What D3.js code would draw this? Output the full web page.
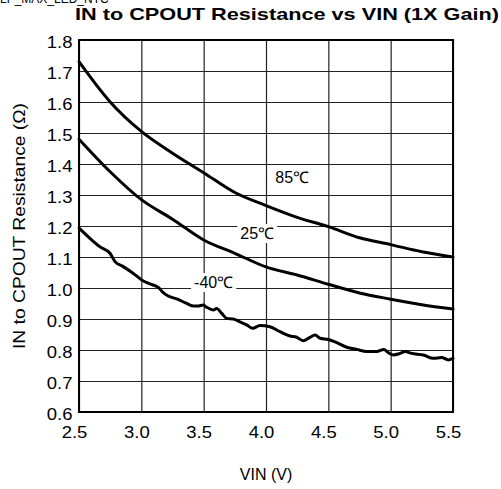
<!DOCTYPE html>
<html>
<head>
<meta charset="utf-8">
<script src="https://cdn.jsdelivr.net/npm/d3@7"></script>
<style>
  body { margin: 0; background: #fff; }
  text { font-family: "Liberation Sans", Arial, Helvetica, sans-serif; fill: #000; }
</style>
</head>
<body>
<svg id="chart" width="501" height="489"></svg>
<script>
// VIN sweep points and measured IN-to-CPOUT resistance per temperature
const vin85 = [2.5, 2.75, 3.0, 3.25, 3.5, 3.75, 4.0, 4.25, 4.5, 4.75, 5.0, 5.25, 5.5];
const res85 = [1.73, 1.60, 1.505, 1.435, 1.372, 1.308, 1.266, 1.228, 1.198, 1.162, 1.140, 1.117, 1.100];

const vin25 = [2.5, 2.75, 3.0, 3.25, 3.5, 3.75, 4.0, 4.25, 4.5, 4.75, 5.0, 5.25, 5.5];
const res25 = [1.48, 1.375, 1.285, 1.222, 1.155, 1.112, 1.068, 1.042, 1.012, 0.984, 0.964, 0.946, 0.932];

const vinM40 = [2.5, 2.588, 2.668, 2.749, 2.789, 2.855, 2.936, 3.003, 3.07, 3.136, 3.176, 3.216,
  3.283, 3.35, 3.417, 3.457, 3.497, 3.524, 3.577, 3.604, 3.645, 3.685, 3.738, 3.791, 3.845,
  3.893, 3.952, 4.032, 4.112, 4.192, 4.246, 4.299, 4.353, 4.393, 4.433, 4.5, 4.567, 4.647,
  4.727, 4.808, 4.888, 4.946, 4.981, 5.021, 5.075, 5.115, 5.169, 5.262, 5.342, 5.409, 5.462, 5.5];
const resM40 = [1.193, 1.160, 1.133, 1.112, 1.085, 1.069, 1.047, 1.026, 1.013, 1.002, 0.985, 0.974,
  0.965, 0.953, 0.942, 0.942, 0.945, 0.938, 0.929, 0.934, 0.918, 0.902, 0.900, 0.891, 0.881,
  0.870, 0.879, 0.875, 0.859, 0.845, 0.841, 0.830, 0.841, 0.848, 0.838, 0.834, 0.824, 0.809,
  0.802, 0.795, 0.795, 0.802, 0.791, 0.784, 0.789, 0.795, 0.789, 0.784, 0.773, 0.776, 0.768, 0.773];

const xTicks = [2.5, 3.0, 3.5, 4.0, 4.5, 5.0, 5.5];
const yTicks = [0.6, 0.7, 0.8, 0.9, 1.0, 1.1, 1.2, 1.3, 1.4, 1.5, 1.6, 1.7, 1.8];

const seriesNames = ["85℃", "25℃", "-40℃"];
const labelAt = [[4.21, 1.338], [3.93, 1.158], [3.58, 1.0]];

const svg = d3.select("#chart");
const plotL = 79, plotR = 453, plotT = 40, plotB = 412;

const x = d3.scaleLinear().domain([2.5, 5.5]).range([plotL, plotR]);
const y = d3.scaleLinear().domain([0.6, 1.8]).range([plotB, plotT]);

// clipped header text at the very top edge
svg.append("text").attr("x", 0).attr("y", 3).style("font-size", "12px").text("LP_MAX_LED_NTC");

// title
svg.append("text")
  .attr("x", 75).attr("y", 20)
  .attr("textLength", 424).attr("lengthAdjust", "spacingAndGlyphs")
  .style("font-size", "17px").style("font-weight", "bold")
  .text("IN to CPOUT Resistance vs VIN (1X Gain)");

// grid
const grid = svg.append("g");
grid.append("g")
  .attr("transform", `translate(0,${plotB})`)
  .call(d3.axisBottom(x).tickValues(xTicks).tickSize(-(plotB - plotT)).tickFormat(""))
  .call(g => g.select(".domain").remove())
  .call(g => g.selectAll("line").attr("stroke", "#222").attr("stroke-width", 1.2));
grid.append("g")
  .attr("transform", `translate(${plotL},0)`)
  .call(d3.axisLeft(y).tickValues(yTicks).tickSize(-(plotR - plotL)).tickFormat(""))
  .call(g => g.select(".domain").remove())
  .call(g => g.selectAll("line").attr("stroke", "#222").attr("stroke-width", 1.2));

// tick labels
const xAxis = svg.append("g")
  .attr("transform", `translate(0,${plotB})`)
  .call(d3.axisBottom(x).tickValues(xTicks).tickSize(0).tickPadding(0).tickFormat(d3.format(".1f")));
xAxis.select(".domain").remove();
xAxis.selectAll("text")
  .attr("y", 0).attr("dy", 0)
  .attr("transform", "translate(-5,26) scale(1.12,1)")
  .style("font-size", "16.5px").style("font-family", '"Liberation Sans", Arial, sans-serif');

const yAxis = svg.append("g")
  .attr("transform", `translate(${plotL},0)`)
  .call(d3.axisLeft(y).tickValues(yTicks).tickSize(0).tickPadding(0).tickFormat(d3.format(".1f")));
yAxis.select(".domain").remove();
yAxis.selectAll("text")
  .attr("x", 0).attr("dy", 0)
  .attr("transform", "translate(-6.5,7) scale(1.12,1)")
  .style("font-size", "16.5px").style("font-family", '"Liberation Sans", Arial, sans-serif');

// curves
const line = d3.line().x(d => x(d[0])).y(d => y(d[1])).curve(d3.curveMonotoneX);
const series = [d3.zip(vin85, res85), d3.zip(vin25, res25), d3.zip(vinM40, resM40)];
svg.append("g").selectAll("path").data(series).join("path")
  .attr("d", line)
  .attr("fill", "none").attr("stroke", "#000").attr("stroke-width", 3)
  .attr("stroke-linejoin", "round").attr("stroke-linecap", "round");

// temperature labels (with white knock-out behind)
const lab = svg.append("g");
seriesNames.forEach((name, i) => {
  const g = lab.append("g");
  const t = g.append("text")
    .attr("x", x(labelAt[i][0])).attr("y", y(labelAt[i][1]))
    .attr("text-anchor", "middle")
    .style("font-size", "16px")
    .text(name);
  if (i > 0) {
    const bb = t.node().getBBox();
    g.insert("rect", "text")
      .attr("x", bb.x - 3).attr("y", bb.y - 1)
      .attr("width", bb.width + 6).attr("height", bb.height + 2)
      .attr("fill", "#fff");
  }
});

// plot frame
svg.append("rect")
  .attr("x", plotL).attr("y", plotT)
  .attr("width", plotR - plotL).attr("height", plotB - plotT)
  .attr("fill", "none").attr("stroke", "#000").attr("stroke-width", 2);

// axis titles
svg.append("text")
  .attr("x", 266).attr("y", 480)
  .attr("text-anchor", "middle")
  .style("font-size", "16px")
  .text("VIN (V)");
svg.append("text")
  .attr("transform", "translate(25,226) rotate(-90)")
  .attr("text-anchor", "middle")
  .attr("textLength", 246).attr("lengthAdjust", "spacingAndGlyphs")
  .style("font-size", "16px")
  .text("IN to CPOUT Resistance (Ω)");
</script>
</body>
</html>
